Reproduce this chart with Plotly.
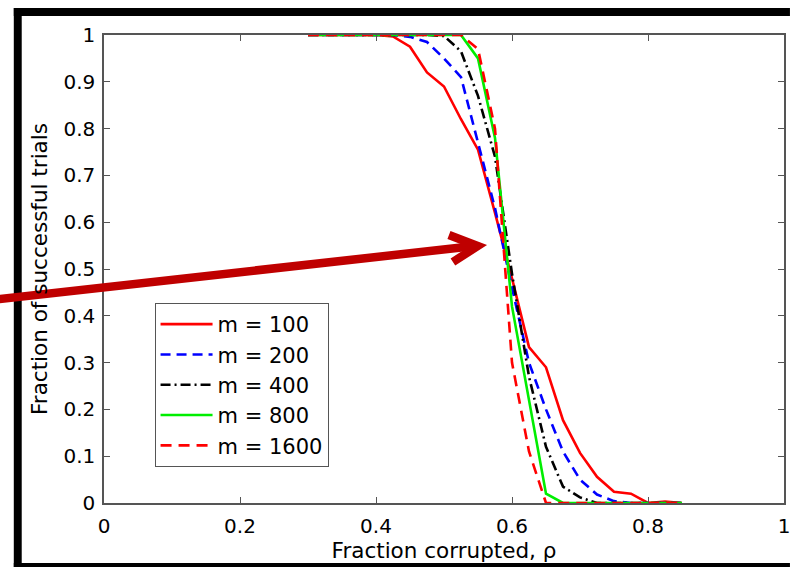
import plotly.graph_objects as go

# Fraction of successful recovery trials vs. fraction of corrupted entries
rho = [0.300, 0.325, 0.350, 0.375, 0.400, 0.425, 0.450, 0.475, 0.500, 0.525,
       0.550, 0.575, 0.600, 0.625, 0.650, 0.675, 0.700, 0.725, 0.750, 0.775,
       0.800, 0.825, 0.850]

m100 = [1, 1, 1, 1, 1, 0.997, 0.975, 0.92, 0.89, 0.82,
        0.755, 0.62, 0.48, 0.333, 0.29, 0.177, 0.107, 0.056, 0.024, 0.02,
        0.0, 0.003, 0.0]
m200 = [1, 1, 1, 1, 1, 1, 0.996, 0.985, 0.95, 0.91,
        0.77, 0.63, 0.46, 0.30, 0.20, 0.11, 0.05, 0.018, 0.004, 0.0,
        0.0, 0.0, 0.0]
m400 = [1, 1, 1, 1, 1, 1, 1, 1, 0.998, 0.965,
        0.87, 0.74, 0.49, 0.27, 0.12, 0.035, 0.012, 0.0, 0.0, 0.0,
        0.0, 0.0, 0.0]
m800 = [1, 1, 1, 1, 1, 1, 1, 1, 1, 1,
        0.95, 0.78, 0.42, 0.22, 0.02, 0.0, 0.0, 0.0, 0.0, 0.0,
        0.0, 0.0, 0.0]
m1600 = [1, 1, 1, 1, 1, 1, 1, 1, 1, 1,
         0.97, 0.80, 0.30, 0.11, 0.0, 0.0, 0.0, 0.0, 0.0, 0.0,
         0.0, 0.0, 0.0]

series_names = ["m = 100", "m = 200", "m = 400", "m = 800", "m = 1600"]
series_values = [m100, m200, m400, m800, m1600]
series_colors = ["#ff0000", "#0000ff", "#000000", "#00ee00", "#ff0000"]
series_dash = ["solid", "10px,6px", "10px,4px,2px,4px", "solid", "11px,7px"]

x_ticks = [0, 0.2, 0.4, 0.6, 0.8, 1]
x_tick_text = ["0", "0.2", "0.4", "0.6", "0.8", "1"]
y_ticks = [0, 0.1, 0.2, 0.3, 0.4, 0.5, 0.6, 0.7, 0.8, 0.9, 1]
y_tick_text = ["0", "0.1", "0.2", "0.3", "0.4", "0.5", "0.6", "0.7", "0.8", "0.9", "1"]

W, H = 796, 567
PLOT_L, PLOT_R, PLOT_T, PLOT_B = 104, 790, 35, 503
FONT = "DejaVu Sans"
AXIS_GRAY = "#555555"
ARROW_RED = "#bf0000"


def fx(px):
    return (px - PLOT_L) / (PLOT_R - PLOT_L)


def fy(py):
    return (PLOT_B - py) / (PLOT_B - PLOT_T)


fig = go.Figure()
for name, vals, col, dash in zip(series_names, series_values, series_colors, series_dash):
    fig.add_trace(go.Scatter(
        x=rho, y=vals, mode="lines", name=name,
        line=dict(color=col, width=2.6, dash=dash),
    ))

axis_common = dict(
    showline=True, linecolor=AXIS_GRAY, linewidth=1.5, mirror="ticks",
    ticks="inside", ticklen=6, tickcolor=AXIS_GRAY, tickwidth=1,
    showgrid=False, zeroline=False,
    tickfont=dict(family=FONT, size=20, color="#000000"),
)

fig.update_xaxes(
    range=[0, 1], tickvals=x_ticks, ticktext=x_tick_text,
    ticklabelstandoff=4,
    title=dict(text="Fraction corrupted, ρ", standoff=2,
               font=dict(family=FONT, size=21.5, color="#000000")),
    **axis_common,
)
fig.update_yaxes(
    range=[0, 1], tickvals=y_ticks, ticktext=y_tick_text,
    ticklabelstandoff=3,
    title=dict(text="Fraction of successful trials", standoff=10,
               font=dict(family=FONT, size=21.5, color="#000000")),
    **axis_common,
)

# outer frame: top, left and bottom bands as filled strips
frame_fill = "#000000"
shapes = [
    dict(type="rect", xref="paper", yref="paper",
         x0=fx(13), x1=fx(796), y0=fy(16), y1=fy(8),
         line=dict(width=0), fillcolor=frame_fill, layer="above"),
    dict(type="rect", xref="paper", yref="paper",
         x0=fx(13), x1=fx(21), y0=fy(567), y1=fy(8),
         line=dict(width=0), fillcolor=frame_fill, layer="above"),
    dict(type="rect", xref="paper", yref="paper",
         x0=fx(13), x1=fx(796), y0=fy(567), y1=fy(563),
         line=dict(width=0), fillcolor=frame_fill, layer="above"),
    # pointer arrow
    dict(type="path", xref="paper", yref="paper",
         path=f"M{fx(-10)},{fy(300)} L{fx(478)},{fy(246)}",
         line=dict(color=ARROW_RED, width=8.5), layer="above"),
    dict(type="path", xref="paper", yref="paper",
         path=f"M{fx(452)},{fy(235)} L{fx(481)},{fy(246)} L{fx(456)},{fy(262)}",
         line=dict(color=ARROW_RED, width=8.5), fillcolor="rgba(0,0,0,0)", layer="above"),
]

fig.update_layout(
    width=W, height=H,
    margin=dict(l=PLOT_L, r=W - PLOT_R, t=PLOT_T, b=H - PLOT_B),
    paper_bgcolor="#ffffff", plot_bgcolor="#ffffff",
    font=dict(family=FONT, color="#000000"),
    shapes=shapes,
    legend=dict(
        x=fx(155), y=fy(303), xanchor="left", yanchor="top",
        bgcolor="#ffffff", bordercolor=AXIS_GRAY, borderwidth=1,
        font=dict(family=FONT, size=21, color="#000000"),
        itemwidth=52, tracegroupgap=0,
    ),
)

fig.write_html("out.html")
